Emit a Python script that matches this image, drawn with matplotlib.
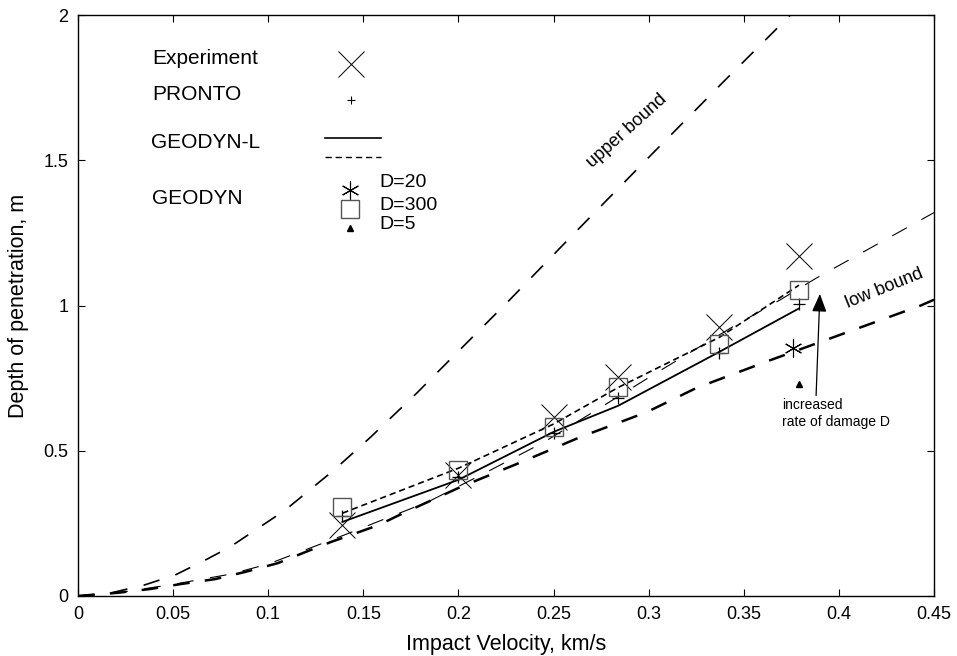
import numpy as np
import matplotlib
matplotlib.use("Agg")
import matplotlib.pyplot as plt

plt.rcParams['font.family'] = ['Liberation Sans', 'DejaVu Sans']
plt.rcParams['lines.scale_dashes'] = False

# impact velocities of the test shots (km/s)
vel = [0.139, 0.200, 0.250, 0.284, 0.337, 0.379]

# measured / computed depth of penetration (m)
experiment = [0.244, 0.416, 0.617, 0.754, 0.926, 1.170]
pronto = [0.275, 0.410, 0.560, 0.680, 0.836, 1.005]
geodyn_l_solid = [0.255, 0.400, 0.565, 0.655, 0.840, 0.990]
geodyn_l_dash = [0.285, 0.440, 0.592, 0.718, 0.890, 1.070]
geodyn_d300 = [0.306, 0.434, 0.582, 0.720, 0.867, 1.053]
geodyn_d20_v, geodyn_d20 = [0.376], [0.853]
geodyn_d5_v, geodyn_d5 = [0.379], [0.730]

# bound curves
upper_v = [0, 0.017, 0.035, 0.051, 0.067, 0.080, 0.109, 0.135, 0.154, 0.178,
           0.197, 0.227, 0.259, 0.300, 0.340, 0.376]
upper_d = [0, 0.010, 0.038, 0.072, 0.124, 0.169, 0.296, 0.436, 0.548, 0.698,
           0.823, 1.020, 1.236, 1.510, 1.775, 2.010]
low_v = [0, 0.021, 0.038, 0.054, 0.072, 0.088, 0.105, 0.121, 0.133, 0.158,
         0.169, 0.201, 0.232, 0.264, 0.299, 0.325, 0.364, 0.443, 0.450]
low_d = [0, 0.011, 0.024, 0.041, 0.058, 0.083, 0.113, 0.155, 0.186, 0.244,
         0.279, 0.375, 0.458, 0.547, 0.633, 0.716, 0.812, 1.000, 1.020]
fit_v = [0, 0.020, 0.050, 0.080, 0.100, 0.120, 0.140, 0.160, 0.184, 0.215,
         0.245, 0.274, 0.302, 0.344, 0.369, 0.388, 0.450]
fit_d = [0, 0.010, 0.040, 0.075, 0.110, 0.160, 0.210, 0.262, 0.324, 0.427,
         0.530, 0.646, 0.760, 0.926, 1.019, 1.094, 1.320]

fig = plt.figure(figsize=(9.57, 6.56), dpi=100)
ax = fig.add_axes([0.0815, 0.0915, 0.8945, 0.8855])

ax.plot(upper_v, upper_d, color='k', lw=1.2, dashes=(12, 12))
ax.plot(fit_v, fit_d, color='k', lw=0.8, dashes=(12, 12))
ax.plot(low_v, low_d, color='k', lw=1.8, dashes=(12, 11))
ax.plot(vel, geodyn_l_solid, color='k', lw=1.3)
ax.plot(vel, geodyn_l_dash, color='k', lw=1.2, dashes=(4.5, 2.8))

ax.plot(vel, experiment, 'x', color='k', ms=19, mew=0.7)
ax.plot(vel, pronto, '+', color='k', ms=8, mew=0.9)
ax.plot(vel, geodyn_d300, 's', mfc='none', mec='#555555', ms=13, mew=1.0)
ax.plot(geodyn_d20_v, geodyn_d20, marker=(6, 2, 0), color='k', ms=13, mew=0.8, ls='none')
ax.plot(geodyn_d5_v, geodyn_d5, '^', color='k', ms=5)

# legend drawn by hand, in axes fractions
fs = 15
tr = ax.transAxes
ax.text(0.087, 0.925, 'Experiment', fontsize=fs, va='center', transform=tr)
ax.plot([0.319], [0.915], 'x', color='k', ms=19, mew=0.7, transform=tr)
ax.text(0.087, 0.864, 'PRONTO', fontsize=fs, va='center', transform=tr)
ax.plot([0.319], [0.853], '+', color='k', ms=6, mew=0.8, transform=tr)
ax.text(0.085, 0.780, 'GEODYN-L', fontsize=fs, va='center', transform=tr)
ax.plot([0.289, 0.354], [0.788, 0.788], color='k', lw=1.2, transform=tr)
ax.plot([0.289, 0.354], [0.756, 0.756], color='k', lw=1.0, dashes=(4.5, 2.8),
        transform=tr)
ax.text(0.087, 0.685, 'GEODYN', fontsize=fs, va='center', transform=tr)
ax.plot([0.318], [0.699], marker=(6, 2, 0), color='k', ms=13, mew=0.8, transform=tr)
ax.plot([0.318], [0.666], 's', mfc='none', mec='#555555', ms=13, mew=1.0, transform=tr)
ax.plot([0.318], [0.634], '^', color='k', ms=5, transform=tr)
ax.text(0.352, 0.711, 'D=20', fontsize=14, va='center', transform=tr)
ax.text(0.352, 0.673, 'D=300', fontsize=14, va='center', transform=tr)
ax.text(0.352, 0.639, 'D=5', fontsize=14, va='center', transform=tr)

ax.text(0.2886, 1.60, 'upper bound', fontsize=13, rotation=42,
        ha='center', va='center', rotation_mode='anchor')
ax.text(0.424, 1.06, 'low bound', fontsize=13, rotation=22,
        ha='center', va='center', rotation_mode='anchor')
ax.text(0.370, 0.657, 'increased', fontsize=10, va='center')
ax.text(0.370, 0.600, 'rate of damage D', fontsize=10, va='center')
ax.annotate('', xy=(0.390, 1.04), xytext=(0.388, 0.69),
            arrowprops=dict(arrowstyle='-|>,head_length=1.1,head_width=0.45',
                            color='k', lw=0.9, shrinkA=0, shrinkB=0))

ax.set_xlim(0, 0.45)
ax.set_ylim(0, 2)
ax.set_xticks(np.arange(0, 0.451, 0.05))
ax.set_xticklabels(['0', '0.05', '0.1', '0.15', '0.2', '0.25', '0.3', '0.35', '0.4', '0.45'])
ax.set_yticks([0, 0.5, 1, 1.5, 2])
ax.set_yticklabels(['0', '0.5', '1', '1.5', '2'])
ax.tick_params(direction='in', top=True, right=True, length=5, width=0.8,
               labelsize=13, pad=7)
for s in ax.spines.values():
    s.set_linewidth(1.0)
ax.set_xlabel('Impact Velocity, km/s', fontsize=15.5, labelpad=8)
ax.set_ylabel('Depth of penetration, m', fontsize=15.5, labelpad=10)

fig.savefig('out.png', dpi=100)
